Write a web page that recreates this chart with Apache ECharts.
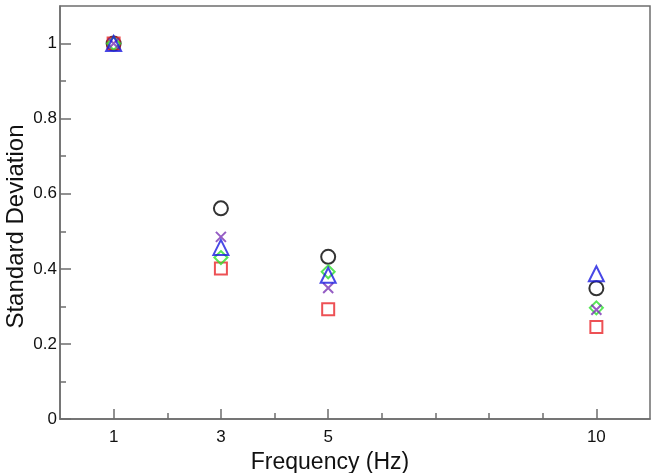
<!DOCTYPE html>
<html>
<head>
<meta charset="utf-8">
<script src="https://cdn.jsdelivr.net/npm/echarts@6/dist/echarts.min.js"></script>
<style>
  html, body { margin: 0; padding: 0; background: #fff; }
  #chart { width: 658px; height: 473px; }
</style>
</head>
<body>
<div id="chart"></div>
<script>
// frequencies (Hz) and standard deviation values per marker series
var freq = [1, 3, 5, 10];
var circleVals   = [1.0, 0.561, 0.432, 0.348];
var squareVals   = [1.0, 0.401, 0.292, 0.245];
var diamondVals  = [1.0, 0.430, 0.392, 0.296];
var crossVals    = [1.0, 0.485, 0.349, 0.291];
var triangleVals = [1.0, 0.457, 0.383, 0.387];

var xMajor = [1, 3, 5, 10];
var xMinor = [2, 4, 6, 7, 8, 9];
var yMajor = [0, 0.2, 0.4, 0.6, 0.8, 1];
var yMinor = [0.1, 0.3, 0.5, 0.7, 0.9];

function pairs(vals) {
    return freq.map(function (f, i) { return [f, vals[i]]; });
}

var axisColor = '#6e6e6e';
var fontFam = '"Liberation Sans", Arial, sans-serif';

var myChart = echarts.init(document.getElementById('chart'));

function markerSeries(name, symbol, size, color, vals) {
    return {
        name: name,
        type: 'scatter',
        symbol: symbol,
        symbolSize: size,
        data: pairs(vals),
        itemStyle: {
            color: 'rgba(0,0,0,0)',
            borderColor: color,
            borderWidth: 2
        },
        emphasis: { disabled: true }
    };
}

var option = {
    animation: false,
    grid: {
        left: 60, right: 8, top: 6, bottom: 54,
        outerBoundsMode: 'none',
        containLabel: false,
        show: true,
        borderColor: axisColor,
        borderWidth: 1.5
    },
    xAxis: [
        {
            type: 'value', min: 0, max: 11,
            name: 'Frequency (Hz)',
            nameLocation: 'middle',
            nameGap: 23,
            nameTextStyle: { fontSize: 23, color: '#111', fontFamily: fontFam, padding: [0, 50, 0, 0] },
            axisLine: { show: true, lineStyle: { color: axisColor, width: 1.5 } },
            axisTick: { show: true, inside: true, length: 10, customValues: xMajor,
                        lineStyle: { color: axisColor, width: 1.5 } },
            axisLabel: { customValues: xMajor, fontSize: 17, color: '#111', margin: 10, fontFamily: fontFam },
            splitLine: { show: false }
        },
        {
            type: 'value', min: 0, max: 11, position: 'bottom',
            axisLine: { show: false },
            axisTick: { show: true, inside: true, length: 6, customValues: xMinor,
                        lineStyle: { color: axisColor, width: 1.5 } },
            axisLabel: { show: false },
            splitLine: { show: false }
        }
    ],
    yAxis: [
        {
            type: 'value', min: 0, max: 1.1,
            name: 'Standard Deviation',
            nameLocation: 'middle',
            nameGap: 32,
            nameMoveOverlap: false,
            nameTextStyle: { fontSize: 24, color: '#111', fontFamily: fontFam, padding: [0, 28, 0, 0] },
            axisLine: { show: true, lineStyle: { color: axisColor, width: 1.5 } },
            axisTick: { show: true, inside: true, length: 11, customValues: yMajor,
                        lineStyle: { color: axisColor, width: 1.5 } },
            axisLabel: { customValues: yMajor, fontSize: 17, color: '#111', margin: 3, fontFamily: fontFam },
            splitLine: { show: false }
        },
        {
            type: 'value', min: 0, max: 1.1, position: 'left',
            axisLine: { show: false },
            axisTick: { show: true, inside: true, length: 6, customValues: yMinor,
                        lineStyle: { color: axisColor, width: 1.5 } },
            axisLabel: { show: false },
            splitLine: { show: false }
        }
    ],
    series: [
        markerSeries('circle', 'circle', 14, '#000000', circleVals),
        markerSeries('square', 'rect', 12, '#e8262b', squareVals),
        markerSeries('diamond', 'diamond', 13, '#2ee02e', diamondVals),
        markerSeries('cross', 'path://M0,0L10,10M10,0L0,10', 10, '#7a35b5', crossVals),
        markerSeries('triangle', 'triangle', 15, '#1a1ae0', triangleVals)
    ]
};
myChart.setOption(option);
window.addEventListener('resize', function () {
    myChart.resize();
});
</script>
</body>
</html>
